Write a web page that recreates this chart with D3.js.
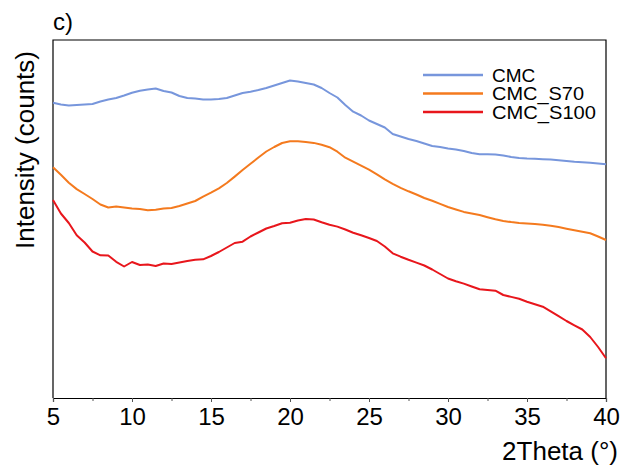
<!DOCTYPE html>
<html>
<head>
<meta charset="utf-8">
<script src="https://cdn.jsdelivr.net/npm/d3@7"></script>
<style>
  html, body { margin: 0; padding: 0; background: #fff; }
  svg { display: block; }
  text { font-family: "Liberation Sans", Arial, sans-serif; fill: #000; }
</style>
</head>
<body>
<svg id="chart" width="627" height="469"></svg>
<script>
// 2Theta grid (degrees)
const twoTheta = d3.range(5, 40.001, 0.5);

// Intensities (arbitrary counts)
const cmc = [2953,2935,2925,2930,2935,2940,2965,2985,3000,3025,3052,3073,3085,3095,3070,3055,3020,3000,2995,2985,2985,2990,3000,3025,3050,3063,3080,3100,3125,3150,3175,3165,3150,3135,3100,3050,3005,2930,2863,2825,2775,2740,2705,2640,2615,2590,2570,2545,2520,2510,2495,2485,2470,2450,2437,2437,2435,2425,2410,2400,2395,2392,2388,2385,2378,2370,2362,2357,2353,2345,2337];
const cmcS70 = [2307,2232,2153,2089,2040,1990,1935,1905,1915,1905,1896,1890,1877,1882,1895,1900,1920,1945,1970,2013,2053,2097,2150,2214,2280,2342,2405,2465,2510,2550,2567,2568,2560,2551,2532,2508,2463,2403,2363,2323,2283,2236,2186,2142,2102,2067,2035,2000,1972,1941,1910,1885,1861,1846,1830,1808,1787,1771,1759,1751,1745,1740,1733,1722,1709,1693,1678,1662,1647,1615,1580];
const cmcS100 = [1980,1845,1750,1627,1555,1465,1427,1425,1362,1315,1360,1330,1335,1320,1345,1340,1355,1370,1382,1387,1420,1460,1505,1550,1563,1615,1655,1695,1720,1748,1753,1775,1790,1785,1757,1732,1714,1685,1653,1627,1600,1570,1515,1447,1413,1382,1354,1325,1285,1240,1195,1168,1144,1115,1087,1080,1073,1030,1011,992,963,938,913,867,818,770,727,685,610,510,397];

const seriesNames = ["CMC", "CMC_S70", "CMC_S100"];
const seriesValues = [cmc, cmcS70, cmcS100];
const seriesColors = ["#7796dc", "#f47a1e", "#e8161c"];

const xTicks = [5, 10, 15, 20, 25, 30, 35, 40];
const xMinorTicks = [7.5, 12.5, 17.5, 22.5, 27.5, 32.5, 37.5];

const svg = d3.select("#chart");
const W = 627, H = 469;
const m = { left: 53, right: 21, top: 40, bottom: 71 };

const x = d3.scaleLinear().domain([5, 40]).range([m.left, W - m.right]);
const y = d3.scaleLinear().domain([0, 3580]).range([H - m.bottom, m.top]);

// Frame (left, top, right)
svg.append("path")
  .attr("d", `M${x(5)},${y(0)}V${y(3580)}H${x(40)}V${y(0)}`)
  .attr("fill", "none").attr("stroke", "#000").attr("stroke-width", 1.2);

// Curves
const line = d3.line().x((d, i) => x(twoTheta[i])).y(d => y(d));
seriesValues.forEach((vals, k) => {
  svg.append("path")
    .datum(vals)
    .attr("d", line)
    .attr("fill", "none")
    .attr("stroke", seriesColors[k])
    .attr("stroke-width", 2)
    .attr("stroke-linejoin", "round");
});

// X axis
const xAxis = d3.axisBottom(x).tickValues(xTicks).tickSize(4).tickPadding(6).tickFormat(d3.format("d"));
const gx = svg.append("g").attr("transform", `translate(0,${y(0)})`).call(xAxis);
gx.select(".domain").attr("stroke", "#000").attr("stroke-width", 1.2);
gx.selectAll(".tick line").attr("stroke", "#555");
gx.selectAll(".tick text").attr("font-size", 24).attr("font-family", "Liberation Sans, Arial, sans-serif").attr("fill", "#000");

const gxm = svg.append("g").attr("transform", `translate(0,${y(0)})`)
  .call(d3.axisBottom(x).tickValues(xMinorTicks).tickSize(3).tickFormat(""));
gxm.select(".domain").remove();
gxm.selectAll(".tick line").attr("stroke", "#555");

// Axis titles
svg.append("text")
  .attr("x", 618).attr("y", 460)
  .attr("text-anchor", "end")
  .attr("font-size", 26)
  .text("2Theta (°)");

svg.append("text")
  .attr("transform", "translate(34,150) rotate(-90)")
  .attr("text-anchor", "middle")
  .attr("font-size", 26)
  .text("Intensity (counts)");

// Panel label
svg.append("text")
  .attr("x", 53).attr("y", 30)
  .attr("font-size", 24)
  .text("c)");

// Legend
const legendY = [75, 93.5, 112];
seriesNames.forEach((name, k) => {
  svg.append("line")
    .attr("x1", 423).attr("x2", 483)
    .attr("y1", legendY[k]).attr("y2", legendY[k])
    .attr("stroke", seriesColors[k]).attr("stroke-width", 2.5);
  svg.append("text")
    .attr("x", 492).attr("y", legendY[k] + 6.5)
    .attr("font-size", 19)
    .attr("textLength", 104)
    .attr("lengthAdjust", "spacingAndGlyphs")
    .attr("textLength", name === "CMC" ? null : (name === "CMC_S70" ? 92 : 104))
    .text(name);
});
</script>
</body>
</html>
